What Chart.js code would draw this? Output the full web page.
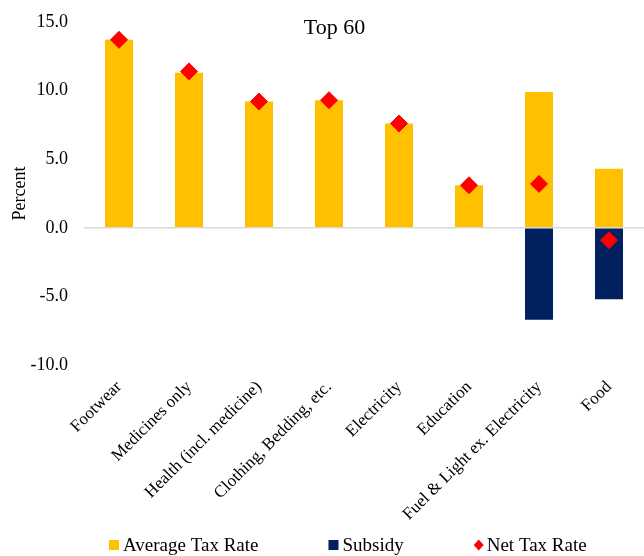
<!DOCTYPE html>
<html><head><meta charset="utf-8">
<script src="https://cdn.jsdelivr.net/npm/chart.js@4.4.1/dist/chart.umd.min.js"></script>
<style>html,body{margin:0;padding:0;background:#fff}canvas{display:block}</style>
</head><body>
<canvas id="c" width="644" height="556"></canvas>
<script>
const categories = ["Footwear","Medicines only","Health (incl. medicine)","Clothing, Bedding, etc.","Electricity","Education","Fuel & Light ex. Electricity","Food"];
const averageTaxRate = [13.7, 11.3, 9.2, 9.3, 7.6, 3.1, 9.9, 4.3];
const subsidy = [null, null, null, null, null, null, -6.7, -5.2];
const netTaxRate = [13.7, 11.4, 9.2, 9.3, 7.6, 3.1, 3.2, -0.9];
const yTicks = [-10, -5, 0, 5, 10, 15];
const chartTitle = "Top 60";
const yAxisTitle = "Percent";

const SERIF = '"Liberation Serif", "Times New Roman", serif';

const titlePlugin = {
  id: 'customTitle',
  afterDraw(chart) {
    const ctx = chart.ctx;
    ctx.save();
    ctx.font = '22px ' + SERIF;
    ctx.fillStyle = '#000';
    ctx.textAlign = 'center';
    ctx.textBaseline = 'alphabetic';
    ctx.fillText(chartTitle, 334.5, 34);
    ctx.restore();
  }
};

const legendPlugin = {
  id: 'customLegend',
  afterDraw(chart) {
    const ctx = chart.ctx;
    ctx.save();
    ctx.font = '19px ' + SERIF;
    ctx.textAlign = 'left';
    ctx.textBaseline = 'alphabetic';
    let x = 109;
    const cy = 545, base = 551;
    chart.data.datasets.forEach(ds => {
      ctx.fillStyle = ds.legendColor;
      if (ds.pointStyle === 'rectRot') {
        const cx = x + 5;
        ctx.beginPath();
        ctx.moveTo(cx, cy - 5.5); ctx.lineTo(cx + 5, cy); ctx.lineTo(cx, cy + 5.5); ctx.lineTo(cx - 5, cy);
        ctx.closePath(); ctx.fill();
        x += 13;
      } else {
        ctx.fillRect(x, cy - 5, 10, 10);
        x += 14;
      }
      ctx.fillStyle = '#000';
      ctx.fillText(ds.label, x, base);
      x += ctx.measureText(ds.label).width + 70;
    });
    ctx.restore();
  }
};

new Chart(document.getElementById('c'), {
  data: {
    labels: categories,
    datasets: [
      { type: 'bar', label: 'Average Tax Rate', data: averageTaxRate, backgroundColor: '#FFC000', legendColor: '#FFC000', order: 2, barPercentage: 0.4, categoryPercentage: 1 },
      { type: 'bar', label: 'Subsidy', data: subsidy, backgroundColor: '#002060', legendColor: '#002060', order: 2, barPercentage: 0.4, categoryPercentage: 1 },
      { type: 'line', label: 'Net Tax Rate', data: netTaxRate, showLine: false, stack: 'net', pointStyle: 'rectRot', pointRadius: 8.5, pointBorderWidth: 1, pointBackgroundColor: '#FF0000', pointBorderColor: '#FF0000', borderColor: '#FF0000', backgroundColor: '#FF0000', legendColor: '#FF0000', order: 0, clip: false }
    ]
  },
  options: {
    responsive: false,
    animation: false,
    events: [],
    devicePixelRatio: 1,
    layout: { autoPadding: false, padding: { top: 22, left: 0, right: 0, bottom: 0 } },
    plugins: { legend: { display: false }, title: { display: false }, tooltip: { enabled: false } },
    scales: {
      x: {
        stacked: true,
        grid: { display: false },
        border: { display: false },
        ticks: { autoSkip: false, maxRotation: 45, minRotation: 45, color: '#000', font: { family: SERIF, size: 17 }, padding: 4 },
        afterFit: s => { s.height = 191; s.paddingLeft = 0; s.paddingRight = 0; }
      },
      y: {
        stacked: true,
        min: yTicks[0], max: yTicks[yTicks.length - 1],
        afterBuildTicks: s => { s.ticks = yTicks.map(v => ({ value: v })); },
        ticks: { color: '#000', font: { family: SERIF, size: 18 }, padding: 16, callback: v => Number(v).toFixed(1) },
        grid: { drawTicks: false, lineWidth: 1.5, color: c => (c.tick && c.tick.value === 0) ? '#d9d9d9' : 'rgba(0,0,0,0)' },
        border: { display: false },
        title: { display: true, text: yAxisTitle, color: '#000', font: { family: SERIF, size: 18 }, padding: { top: 9, bottom: 0 } },
        afterFit: s => { s.width = 84; s.paddingTop = 0; s.paddingBottom = 0; }
      }
    }
  },
  plugins: [titlePlugin, legendPlugin]
});
</script>
</body></html>
